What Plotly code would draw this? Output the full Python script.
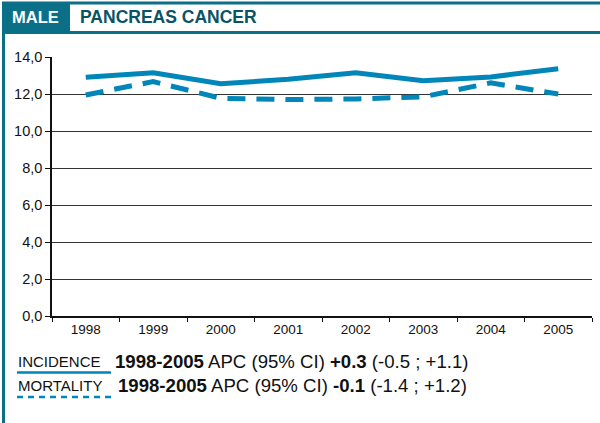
import plotly.graph_objects as go

years = ["1998", "1999", "2000", "2001", "2002", "2003", "2004", "2005"]
incidence = [12.9, 13.15, 12.55, 12.8, 13.15, 12.72, 12.92, 13.37]
mortality = [11.95, 12.67, 11.77, 11.7, 11.73, 11.85, 12.6, 12.0]
y_ticks = [0, 2, 4, 6, 8, 10, 12, 14]

LINE = "#0086b9"
TEAL = "#0b6f88"
DARK = "#0a5366"

W, H = 600, 423
L, R, T, B = 52, 592, 57, 316

def px(x):
    return (x - L) / (R - L)

def py(y):
    return (B - y) / (B - T)

fig = go.Figure()
fig.add_trace(go.Scatter(x=years, y=incidence, mode="lines",
                         line=dict(color=LINE, width=5), showlegend=False))
fig.add_trace(go.Scatter(x=years, y=mortality, mode="lines",
                         line=dict(color=LINE, width=5, dash="18px,11px"), showlegend=False))

shapes = [
    dict(type="line", xref="paper", yref="paper", x0=px(2), x1=px(600), y0=py(3), y1=py(3),
         line=dict(color=TEAL, width=3)),
    dict(type="line", xref="paper", yref="paper", x0=px(2), x1=px(600), y0=py(32.5), y1=py(32.5),
         line=dict(color=TEAL, width=3)),
    dict(type="line", xref="paper", yref="paper", x0=px(3.5), x1=px(3.5), y0=py(2), y1=py(423),
         line=dict(color=TEAL, width=3)),
    dict(type="rect", xref="paper", yref="paper", x0=px(2), x1=px(70), y0=py(2), y1=py(32),
         fillcolor=TEAL, line=dict(width=0)),
    dict(type="line", xref="paper", yref="paper", x0=px(17), x1=px(111), y0=py(372.5), y1=py(372.5),
         line=dict(color=LINE, width=2.5)),
    dict(type="line", xref="paper", yref="paper", x0=px(17), x1=px(111), y0=py(397), y1=py(397),
         line=dict(color=LINE, width=2.5, dash="6px,5px")),
]

ann = [
    dict(text="<b>MALE</b>", x=px(10), y=py(17), xanchor="left", yanchor="middle",
         font=dict(size=16.5, color="white")),
    dict(text="<b>PANCREAS CANCER</b>", x=px(78), y=py(17), xanchor="left", yanchor="middle",
         font=dict(size=17.5, color=DARK)),
    dict(text="INCIDENCE", x=px(16), y=py(361), xanchor="left", yanchor="middle",
         font=dict(size=15, color="#111")),
    dict(text="<b>1998-2005</b> APC (95% CI) <b>+0.3</b> (-0.5 ; +1.1)", x=px(113), y=py(361),
         xanchor="left", yanchor="middle", font=dict(size=18.6, color="#111")),
    dict(text="MORTALITY", x=px(16), y=py(385), xanchor="left", yanchor="middle",
         font=dict(size=15, color="#111")),
    dict(text="<b>1998-2005</b> APC (95% CI) <b>-0.1</b> (-1.4 ; +1.2)", x=px(116), y=py(385),
         xanchor="left", yanchor="middle", font=dict(size=18.6, color="#111")),
]
for a in ann:
    a.update(xref="paper", yref="paper", showarrow=False)

fig.update_layout(
    width=W, height=H,
    margin=dict(l=L, r=W - R, t=T, b=H - B),
    paper_bgcolor="white", plot_bgcolor="white",
    separators=",.",
    font=dict(family="Arial", color="#111"),
    shapes=shapes, annotations=ann,
    xaxis=dict(type="category", tickson="boundaries", ticks="outside", ticklen=4,
               tickcolor="#111", showline=True, linecolor="#111", linewidth=1.5,
               showgrid=False, tickfont=dict(size=13.5), range=[-0.5, 7.5]),
    yaxis=dict(range=[0, 14], tickvals=y_ticks, tickformat=".1f", ticks="outside",
               ticklen=5, tickcolor="#111", showline=True, linecolor="#111", linewidth=1.5,
               showgrid=True, gridcolor="#333", gridwidth=1, zeroline=False,
               tickfont=dict(size=14.5)),
)

fig.write_html("out.html", config={"displayModeBar": False},
               post_script="document.body.style.margin='0';")
